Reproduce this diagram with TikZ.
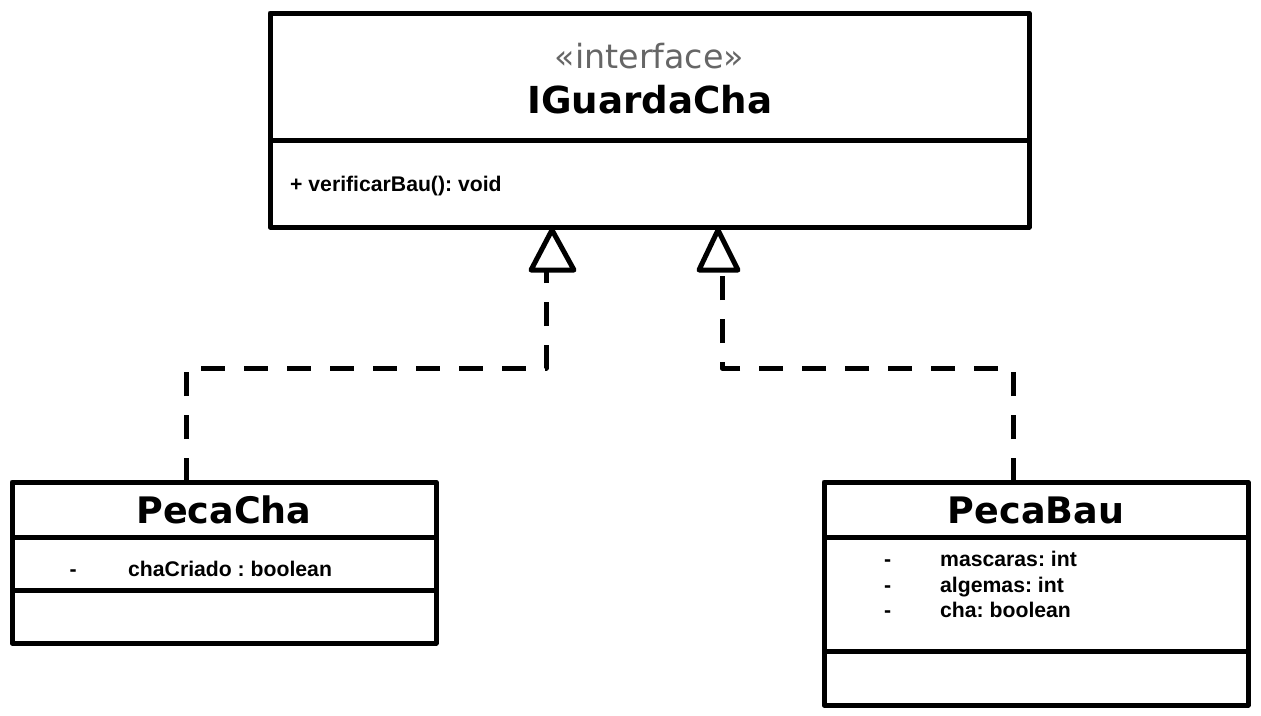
\documentclass[tikz,border=0pt]{standalone}
\usepackage{fontspec}
\newfontfamily\djv{DejaVu Sans}
\newfontfamily\lib{Liberation Sans}
\usetikzlibrary{calc}
\definecolor{stereo}{HTML}{666666}
\frenchspacing
\begin{document}
\begin{tikzpicture}[x=1pt,y=-1pt,
  umlbox/.style={draw, line width=5pt, line join=round, inner sep=0pt, outer sep=0pt, fill=white},
  divider/.style={line width=5pt},
  realize/.style={line width=5pt, dash pattern=on 24pt off 19pt, line join=round},
  hollow/.style={draw, line width=5pt, line join=round, fill=white},
  title/.style={font=\djv\bfseries\fontsize{36.5}{40}\selectfont, anchor=base, inner sep=0pt},
  bigtitle/.style={font=\djv\bfseries\fontsize{37.2}{41}\selectfont, anchor=base, inner sep=0pt},
  stereotype/.style={font=\djv\fontsize{33.3}{38}\selectfont, text=stereo, anchor=base, inner sep=0pt},
  member/.style={font=\lib\bfseries\fontsize{21.2}{24}\selectfont\frenchspacing, anchor=base west, inner sep=0pt}]
\useasboundingbox (0,0) rectangle (1261,715);
\fill[white] (0,0) rectangle (1261,715);

% interface box
\node[umlbox, minimum width=759pt, minimum height=214pt] (iface) at (649.5,120) {};
\draw[divider] ($(iface.north west)+(0,127)$) -- ($(iface.north east)+(0,127)$);
\node[stereotype] (ifstereo) at (649.5,68) {«interface»};
\node[bigtitle] (ifname) at (650,113) {IGuardaCha};
\node[member] (ifop) at (290,191.5) {+ verificarBau(): void};

% PecaCha box
\node[umlbox, minimum width=424pt, minimum height=161pt] (pecacha) at (224,562.5) {};
\draw[divider] ($(pecacha.north west)+(0,55)$) -- ($(pecacha.north east)+(0,55)$);
\draw[divider] ($(pecacha.north west)+(0,108)$) -- ($(pecacha.north east)+(0,108)$);
\node[title] (chaname) at (224,523) {PecaCha};
\node[member] (chavis) at (69.5,576) {-};
\node[member] (chaattr) at (128,576) {chaCriado : boolean};

% PecaBau box
\node[umlbox, minimum width=424pt, minimum height=223pt] (pecabau) at (1036,593.5) {};
\draw[divider] ($(pecabau.north west)+(0,55)$) -- ($(pecabau.north east)+(0,55)$);
\draw[divider] ($(pecabau.north west)+(0,169)$) -- ($(pecabau.north east)+(0,169)$);
\node[title] (bauname) at (1036,523) {PecaBau};
\node[member] (bauvis1) at (884,566) {-};
\node[member] (bauattr1) at (940,566) {mascaras: int};
\node[member] (bauvis2) at (884,592) {-};
\node[member] (bauattr2) at (940,592) {algemas: int};
\node[member] (bauvis3) at (884,617) {-};
\node[member] (bauattr3) at (940,617) {cha: boolean};

% realization connectors
\coordinate (lbend) at (186,368);
\coordinate (lbase) at (546,270);
\coordinate (lapex) at (552,230);
\coordinate (rbend) at (1013,368);
\coordinate (rbase) at (722,270);
\coordinate (rapex) at (718,230);

\draw[realize] (lbend |- pecacha.north) -- (lbend) -- (lbase |- lbend) -- (lbase);
\draw[realize] (rbend |- pecabau.north) -- (rbend) -- (rbase |- rbend) -- (rbase);

\draw[hollow] ($(lbase)+(-15,0)$) -- (lapex) -- ($(lbase)+(28,0)$) -- cycle;
\draw[hollow] ($(rbase)+(-23,0)$) -- (rapex) -- ($(rbase)+(16,0)$) -- cycle;
\end{tikzpicture}
\end{document}
